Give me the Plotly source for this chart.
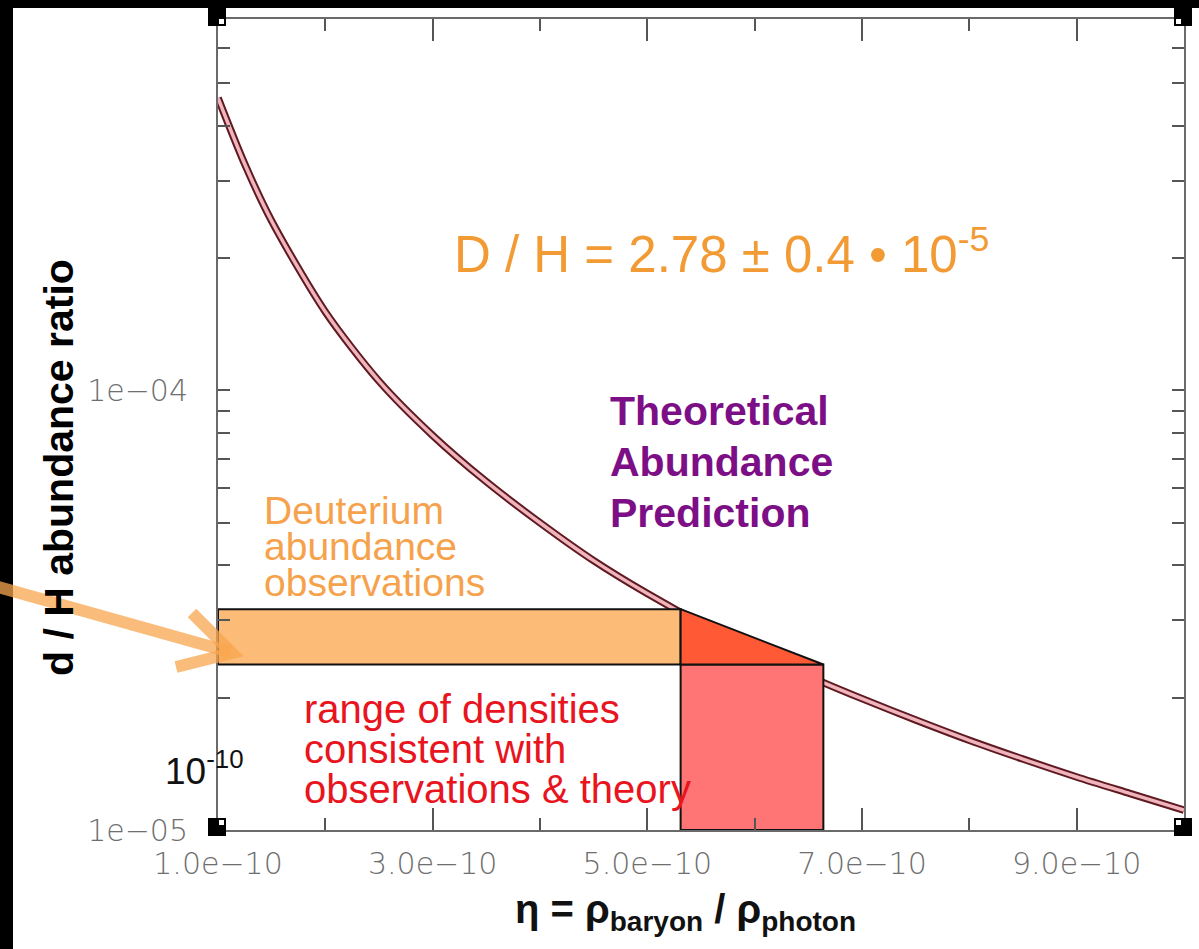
import plotly.graph_objects as go

# Theoretical deuterium abundance vs baryon-to-photon ratio
eta_theory = [1.0e-10, 1.25e-10, 1.5e-10, 2.0e-10, 2.5e-10, 3.0e-10, 3.5e-10, 4.0e-10,
              4.5e-10, 5.0e-10, 5.5e-10, 6.0e-10, 6.5e-10, 7.0e-10, 7.5e-10, 8.0e-10,
              8.5e-10, 9.0e-10, 9.5e-10, 1.0e-9]
dh_theory = [4.63e-4, 3.27e-4, 2.43e-4, 1.51e-4, 1.05e-4, 7.9e-5, 6.2e-5, 5.0e-5,
             4.1e-5, 3.45e-5, 2.95e-5, 2.56e-5, 2.24e-5, 1.99e-5, 1.78e-5, 1.60e-5,
             1.45e-5, 1.32e-5, 1.21e-5, 1.11e-5]

# Observed D/H = 2.78 +/- 0.4 x 10^-5
dh_obs_center = 2.78e-5
dh_obs_err = 0.4e-5

# Baryon density range consistent with observation and theory
eta_consistent = [5.31e-10, 6.64e-10]

eta_range = [1.0e-10, 1.0e-9]
dh_range = [1.0e-5, 7.0e-4]

x_tick_vals = [1e-10, 3e-10, 5e-10, 7e-10, 9e-10]
x_tick_text = ["1.0e\u221210", "3.0e\u221210", "5.0e\u221210", "7.0e\u221210", "9.0e\u221210"]
x_minor_vals = [2e-10, 4e-10, 6e-10, 8e-10]
y_tick_vals = [1e-5, 1e-4]
y_tick_text = ["1e\u221205", "1e\u221204"]
y_minor_vals = [2e-5, 3e-5, 4e-5, 5e-5, 6e-5, 7e-5, 8e-5, 9e-5,
                2e-4, 3e-4, 4e-4, 5e-4, 6e-4, 7e-4]

dh_lo = dh_obs_center - dh_obs_err
dh_hi = dh_obs_center + dh_obs_err
eta_lo, eta_hi = eta_consistent

# figure geometry (pixels)
W, H = 1199, 949
L, R, T, B = 218, 1184, 19, 830


def px(x):
    return (x - L) / (R - L)


def py(y):
    return (B - y) / (B - T)


fig = go.Figure()

# prediction curve: dark outline with a pink core
fig.add_trace(go.Scatter(x=eta_theory, y=dh_theory, mode="lines",
                         line=dict(color="#5e1a20", width=7.5, shape="spline", smoothing=0.8),
                         hoverinfo="skip"))
fig.add_trace(go.Scatter(x=eta_theory, y=dh_theory, mode="lines",
                         line=dict(color="#f0b4bd", width=3.5, shape="spline", smoothing=0.8),
                         hoverinfo="skip"))

# observational band
fig.add_trace(go.Scatter(
    x=[eta_range[0], eta_lo, eta_lo, eta_range[0], eta_range[0]],
    y=[dh_lo, dh_lo, dh_hi, dh_hi, dh_lo],
    mode="lines", fill="toself", fillcolor="#fdbb78",
    line=dict(color="#111111", width=2), hoverinfo="skip"))

# consistent density range
fig.add_trace(go.Scatter(
    x=[eta_lo, eta_hi, eta_hi, eta_lo, eta_lo],
    y=[dh_range[0], dh_range[0], dh_lo, dh_lo, dh_range[0]],
    mode="lines", fill="toself", fillcolor="#ff7474",
    line=dict(color="#111111", width=2), hoverinfo="skip"))

# overlap of prediction and observation
fig.add_trace(go.Scatter(
    x=[eta_lo, eta_hi, eta_lo, eta_lo],
    y=[dh_hi, dh_lo, dh_lo, dh_hi],
    mode="lines", fill="toself", fillcolor="#ff5a35",
    line=dict(color="#111111", width=2), hoverinfo="skip"))

shapes = []
# dark frame strips along the top and left edges
shapes.append(dict(type="rect", xref="paper", yref="paper", layer="above",
                   x0=px(0), x1=px(13), y0=py(H), y1=py(0),
                   fillcolor="black", line=dict(width=0)))
shapes.append(dict(type="rect", xref="paper", yref="paper", layer="above",
                   x0=px(0), x1=px(W), y0=py(8), y1=py(0),
                   fillcolor="black", line=dict(width=0)))

# corner markers
for cx, cy, ix, iy in [(217, 17, 1, 1), (1183, 17, -1, 1), (217, 827, 1, -1), (1183, 827, -1, -1)]:
    shapes.append(dict(type="rect", xref="paper", yref="paper", layer="above",
                       x0=px(cx - 9), x1=px(cx + 9), y0=py(cy + 9), y1=py(cy - 9),
                       fillcolor="black", line=dict(width=0)))
    shapes.append(dict(type="rect", xref="paper", yref="paper", layer="above",
                       x0=px(cx + 2 * ix), x1=px(cx + 7 * ix), y0=py(cy + 2 * iy), y1=py(cy + 7 * iy),
                       fillcolor="white", line=dict(width=0)))

# pointer arrow to the observational band
arrow_col = "rgba(248,165,78,0.75)"
shapes.append(dict(type="line", xref="paper", yref="paper", layer="above",
                   x0=px(-5), y0=py(586), x1=px(230), y1=py(652),
                   line=dict(color=arrow_col, width=12)))
shapes.append(dict(type="path", xref="paper", yref="paper", layer="above",
                   path=f"M {px(192)},{py(613)} L {px(232)},{py(653)} L {px(176)},{py(667)}",
                   line=dict(color=arrow_col, width=12)))

ann = []


def text(x, y, s, size, color, family="Liberation Sans", weight="normal",
         xanchor="left", angle=0):
    ann.append(dict(x=px(x), y=py(y), xref="paper", yref="paper", text=s,
                    showarrow=False, xanchor=xanchor, yanchor="middle", textangle=angle,
                    font=dict(family=family, size=size, color=color, weight=weight)))


text(452, 251, "D / H = 2.78 \u00b1 0.4 \u2022 10<sup>-5</sup>", 51, "#f29a33")

for i, line in enumerate(["Theoretical", "Abundance", "Prediction"]):
    text(608, 411 + 51 * i, line, 41, "#7d0f86", weight="bold")

for i, line in enumerate(["Deuterium", "abundance", "observations"]):
    text(262, 510 + 36 * i, line, 39, "#f6a24c")

for i, line in enumerate(["range of densities", "consistent with", "observations & theory"]):
    text(302, 709 + 40 * i, line, 40, "#e8141e")

text(163, 768, "10<sup>-10</sup>", 37, "#111111")

# axis titles
text(59, 468, "d / H abundance ratio", 41, "#000000", weight="bold",
     xanchor="center", angle=-90)
text(685, 912, "\u03b7 = \u03c1<sub>baryon</sub> / \u03c1<sub>photon</sub>", 40, "#111111",
     weight="bold", xanchor="center")

axis_common = dict(showline=True, linecolor="#6a6a6a", linewidth=2, mirror="ticks",
                   ticks="inside", tickcolor="#555555", tickwidth=2,
                   showgrid=False, zeroline=False,
                   tickfont=dict(family="DejaVu Sans", size=30, color="#6e6e6e", weight=200))

fig.update_xaxes(range=eta_range, tickmode="array", tickvals=x_tick_vals, ticktext=x_tick_text,
                 ticklen=22, ticklabelstandoff=6,
                 minor=dict(tickmode="array", tickvals=x_minor_vals, ticks="inside",
                            ticklen=12, tickcolor="#555555", tickwidth=2, showgrid=False),
                 **axis_common)
fig.update_yaxes(type="log", range=[-5, -3.1549], tickmode="array", tickvals=y_tick_vals,
                 ticktext=y_tick_text, ticklen=12, ticklabelstandoff=22,
                 minor=dict(tickmode="array", tickvals=y_minor_vals, ticks="inside",
                            ticklen=12, tickcolor="#555555", tickwidth=2, showgrid=False),
                 **axis_common)

fig.update_layout(width=W, height=H, margin=dict(l=L, r=W - R, t=T, b=H - B),
                  paper_bgcolor="white", plot_bgcolor="white", showlegend=False,
                  shapes=shapes, annotations=ann)

fig.write_html("out.html")
